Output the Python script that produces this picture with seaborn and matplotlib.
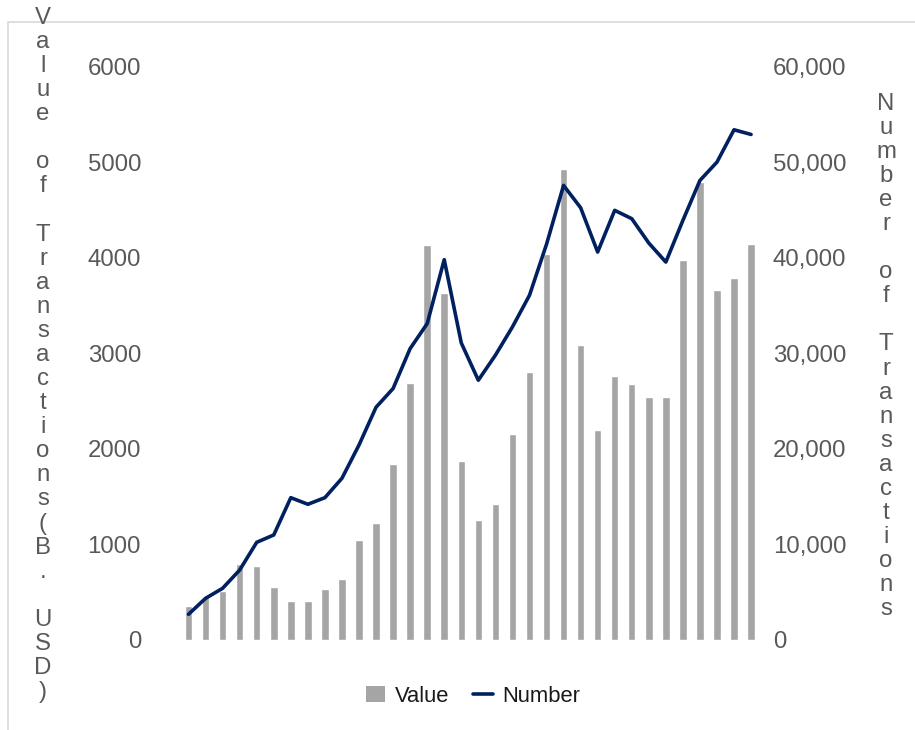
import numpy as np
import matplotlib
matplotlib.use("Agg")
import matplotlib.pyplot as plt
from matplotlib.patches import Rectangle, Patch
from matplotlib.lines import Line2D
from matplotlib.ticker import FuncFormatter
import seaborn as sns

# Period index (34 consecutive periods, no axis labels shown)
periods = list(range(1, 35))

# Value of transactions, billion USD (bars, left axis)
values = [355, 450, 510, 794, 773, 554, 408, 408, 533, 638,
          1045, 1223, 1840, 2686, 4132, 3630, 1871, 1254, 1422, 2153,
          2801, 4038, 4923, 3084, 2195, 2760, 2676, 2543, 2543, 3972,
          4791, 3658, 3784, 4139]

# Number of transactions (line, right axis)
numbers = [2690, 4360, 5410, 7320, 10220, 10990, 14890, 14200, 14890, 16920,
           20400, 24350, 26310, 30490, 33100, 39790, 31080, 27180, 29790, 32750,
           36060, 41400, 47560, 45230, 40590, 44950, 44080, 41530, 39540, 43900,
           48080, 50000, 53380, 52890]

left_ticks = [0, 1000, 2000, 3000, 4000, 5000, 6000]
right_ticks = [0, 10000, 20000, 30000, 40000, 50000, 60000]

left_title = "Value of Transactions(B. USD)"
right_title = "Number of Transactions"

BAR_COLOR = "#A5A5A5"
LINE_COLOR = "#002060"
TICK_COLOR = "#595959"

sns.set_theme(style="white")
plt.rcParams["font.family"] = ["Liberation Sans", "DejaVu Sans"]

W, H = 915, 730
fig = plt.figure(figsize=(W / 100, H / 100), dpi=100)

# plot area in pixel terms
x0, x1 = 180, 759.6
y_top, y_bot = 66.5, 640
ax = fig.add_axes([x0 / W, (H - y_bot) / H, (x1 - x0) / W, (y_bot - y_top) / H])
ax2 = ax.twinx()

sns.barplot(x=periods, y=values, color=BAR_COLOR, saturation=1, width=0.44, ax=ax)
sns.lineplot(x=np.arange(len(numbers)), y=numbers, color=LINE_COLOR,
             linewidth=2.6, ax=ax2)

for a in (ax, ax2):
    a.set_xlim(-0.5, len(periods) - 0.5)
    for s in a.spines.values():
        s.set_visible(False)
    a.grid(False)
    a.set_xlabel("")
    a.set_ylabel("")
ax.set_xticks([])
ax.patch.set_alpha(0)

ax.set_ylim(0, 6000)
ax.set_yticks(left_ticks)
ax.set_yticklabels([str(t) for t in left_ticks])
ax.tick_params(axis="y", length=0, pad=28, labelsize=17.3, labelcolor=TICK_COLOR)

ax2.set_ylim(0, 60000)
ax2.set_yticks(right_ticks)
ax2.yaxis.set_major_formatter(FuncFormatter(lambda v, p: f"{int(v):,}"))
ax2.tick_params(axis="y", length=0, pad=9.4, labelsize=17.3, labelcolor=TICK_COLOR)

# vertically stacked axis titles, one character per line
fig.text(43 / W, (H - 355) / H, "\n".join(left_title), ha="center", va="center",
         multialignment="center", fontsize=17.3, color=TICK_COLOR, linespacing=1.122)
fig.text(886 / W, (H - 356.5) / H, "\n".join(right_title), ha="center", va="center",
         multialignment="center", fontsize=17.3, color=TICK_COLOR, linespacing=1.122)

# legend below the plot
handles = [Patch(facecolor=BAR_COLOR, edgecolor="none"),
           Line2D([0], [0], color=LINE_COLOR, linewidth=2.6)]
fig.legend(handles, ["Value", "Number"], loc="center", ncol=2,
           bbox_to_anchor=(473 / W, (H - 696) / H), frameon=False,
           fontsize=15.8, labelcolor="#1a1a1a", handlelength=0.9,
           handleheight=0.75, columnspacing=1.05, handletextpad=0.45)

# chart frame
fig.add_artist(Rectangle((8 / W, -0.05), 1.2, (H - 22) / H + 0.05,
                         transform=fig.transFigure, fill=False,
                         edgecolor="#D9D9D9", linewidth=1.2, zorder=-1))

fig.savefig("out.png", dpi=100)
